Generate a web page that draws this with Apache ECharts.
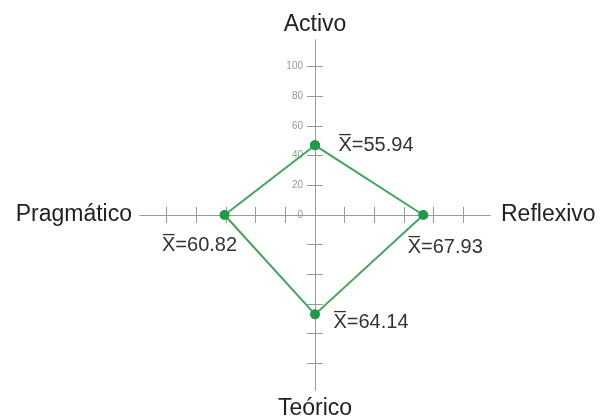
<!DOCTYPE html>
<html>
<head>
<meta charset="utf-8">
<script src="https://cdn.jsdelivr.net/npm/echarts@6/dist/echarts.min.js"></script>
<style>
  html, body { margin: 0; padding: 0; background: #fff; }
  #chart { width: 602px; height: 419px; }
</style>
</head>
<body>
<div id="chart"></div>
<script>
// Ejes: arriba, derecha, abajo, izquierda
const estilos = ['Activo', 'Reflexivo', 'Teórico', 'Pragmático'];
// posición de cada punto sobre su eje
const posicion = [47, 73, 67, 61];
// medias que aparecen en las etiquetas
const media = ['55.94', '67.93', '64.14', '60.82'];
const tickValues = [-100, -80, -60, -40, -20, 20, 40, 60, 80, 100];
const labelValues = [0, 20, 40, 60, 80, 100];

const AXIS_MAX = 118;
const axisColor = '#9a9a9a';
const green = '#3ea75c';

// direcciones de cada eje
const dirs = [[0, 1], [1, 0], [0, -1], [-1, 0]];
const labelOffsets = [[61, 0], [22, 32], [56, 8], [-25, 30]];

const pts = posicion.map((v, i) => ({
  value: [dirs[i][0] * v, dirs[i][1] * v],
  label: {
    show: true,
    position: 'inside',
    offset: labelOffsets[i],
    formatter: 'X\u0305=' + media[i]
  }
}));
pts.push({ value: pts[0].value.slice(), label: { show: false } });

function axisBase(extra) {
  return Object.assign({
    type: 'value',
    min: -AXIS_MAX,
    max: AXIS_MAX,
    splitLine: { show: false },
    axisLine: { show: true, onZero: true, onZeroAxisIndex: 0, lineStyle: { color: axisColor, width: 1 } },
    axisTick: { show: true, inside: false, length: 8, customValues: tickValues, lineStyle: { color: axisColor } },
    axisLabel: { show: false },
    nameTextStyle: { fontFamily: 'Liberation Sans', fontSize: 23, color: '#222' }
  }, extra);
}

const chart = echarts.init(document.getElementById('chart'));
chart.setOption({
  animation: false,
  grid: { left: 140, right: 112, top: 40, bottom: 29, containLabel: false, outerBoundsMode: 'none' },
  xAxis: [
    axisBase({ position: 'bottom', name: estilos[1], nameLocation: 'end', nameGap: 11 }),
    axisBase({ position: 'top', name: estilos[3], nameLocation: 'start', nameGap: 8 })
  ],
  yAxis: [
    axisBase({
      position: 'left', offset: -175, name: estilos[0], nameLocation: 'end', nameGap: 4,
      axisLine: { show: true, onZero: false, lineStyle: { color: axisColor, width: 1 } },
      axisLabel: {
        show: true, customValues: labelValues, margin: 12, hideOverlap: false,
        fontFamily: 'Liberation Sans', fontSize: 10, color: '#999'
      }
    }),
    axisBase({ position: 'right', name: estilos[2], nameLocation: 'start', nameGap: 7 })
  ],
  series: [{
    type: 'line',
    xAxisIndex: 0,
    yAxisIndex: 0,
    data: pts,
    symbol: 'circle',
    symbolSize: 10,
    itemStyle: { color: '#1f9a47' },
    lineStyle: { color: green, width: 2 },
    label: { fontFamily: 'Liberation Sans', fontSize: 20, color: '#333' },
    z: 5
  }]
});
</script>
</body>
</html>
